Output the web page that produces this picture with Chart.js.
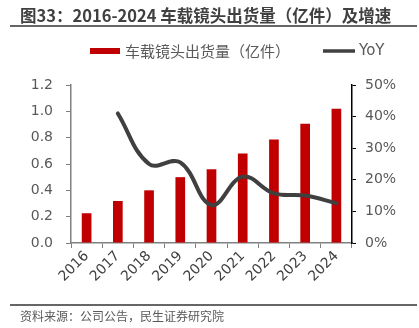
<!DOCTYPE html>
<html lang="zh">
<head>
<meta charset="UTF-8">
<title>车载镜头出货量及增速</title>
<script src="https://cdn.jsdelivr.net/npm/chart.js"></script>
<style>
  html, body { margin: 0; padding: 0; background: #fff; }
  #wrap { width: 419px; height: 328px; position: relative; }
</style>
</head>
<body>
<div id="wrap"><canvas id="myChart" width="419" height="328"></canvas></div>
<script>
  const years = ['2016', '2017', '2018', '2019', '2020', '2021', '2022', '2023', '2024'];
  const shipments = [0.226, 0.319, 0.40, 0.50, 0.56, 0.68, 0.787, 0.906, 1.02]; // 亿件
  const yoy = [null, 41, 25, 25.5, 12, 21, 15.7, 15, 12.6]; // %

  const titleText = '图33：2016-2024 车载镜头出货量（亿件）及增速';
  const sourceText = '资料来源：公司公告，民生证券研究院';

  const barColor = '#C00000';
  const lineColor = '#404040';
  const textColor = '#595959';
  const tickFont = '"DejaVu Sans", "Liberation Sans", sans-serif';
  const latin = '"Liberation Sans", Arial, "Noto Sans CJK SC", sans-serif';
  const cjk = '"Noto Sans CJK SC", "Liberation Sans", sans-serif';

  // title, legend and source line drawn straight onto the canvas
  const decor = {
    id: 'decor',
    afterDraw(chart) {
      const c = chart.ctx;
      const barSet = chart.data.datasets.find(d => d.type === 'bar');
      const lineSet = chart.data.datasets.find(d => d.type === 'line');
      c.save();
      c.textBaseline = 'middle';
      c.textAlign = 'left';
      c.fillStyle = '#404040';
      c.font = 'bold 16.5px ' + cjk;
      c.fillText(titleText, 20, 16);

      c.strokeStyle = '#666';
      c.lineWidth = 2;
      c.beginPath(); c.moveTo(10, 26); c.lineTo(417, 26); c.stroke();

      // legend
      c.fillStyle = barColor;
      c.fillRect(90, 48, 30, 6);
      c.fillStyle = textColor;
      c.font = '15px ' + cjk;
      c.fillText(barSet.label, 125, 51);
      c.strokeStyle = lineColor;
      c.lineWidth = 3.5;
      c.beginPath(); c.moveTo(323, 51); c.lineTo(355, 51); c.stroke();
      c.font = '15px ' + tickFont;
      c.fillText(lineSet.label, 359, 51);

      c.strokeStyle = '#666';
      c.lineWidth = 2;
      c.beginPath(); c.moveTo(10, 305); c.lineTo(417, 305); c.stroke();
      c.fillStyle = textColor;
      c.font = '12px ' + cjk;
      c.fillText(sourceText, 20, 316);
      c.restore();
    }
  };

  const ctx = document.getElementById('myChart').getContext('2d');
  new Chart(ctx, {
    data: {
      labels: years,
      datasets: [
        {
          type: 'line',
          label: 'YoY',
          data: yoy,
          yAxisID: 'y1',
          borderColor: lineColor,
          borderWidth: 4,
          tension: 0.4,
          pointRadius: 0,
          borderCapStyle: 'round',
          order: 0
        },
        {
          type: 'bar',
          label: '车载镜头出货量（亿件）',
          data: shipments,
          yAxisID: 'y',
          backgroundColor: barColor,
          categoryPercentage: 1,
          barPercentage: 0.31,
          order: 1
        }
      ]
    },
    options: {
      responsive: false,
      animation: false,
      layout: { padding: { top: 85, bottom: 20, left: 0, right: 0 } },
      plugins: {
        legend: { display: false },
        tooltip: { enabled: false }
      },
      scales: {
        x: {
          afterFit(s) { s.height = 65; },
          grid: { display: true, drawOnChartArea: false, tickLength: 5, color: '#808080', offset: true },
          border: { color: '#808080', width: 1.5 },
          ticks: {
            color: '#404040',
            font: { family: tickFont, size: 14 },
            maxRotation: 45,
            minRotation: 45,
            padding: 0
          }
        },
        y: {
          position: 'left',
          min: 0,
          max: 1.2,
          afterFit(s) { s.width = 71; },
          grid: { drawOnChartArea: false, tickLength: 5, color: '#808080' },
          border: { color: '#808080', width: 1.5 },
          ticks: {
            stepSize: 0.2,
            color: textColor,
            padding: 13,
            font: { family: tickFont, size: 14 },
            callback: v => v.toFixed(1)
          }
        },
        y1: {
          position: 'right',
          min: 0,
          max: 50,
          afterFit(s) { s.width = 67; },
          grid: { drawOnChartArea: false, tickLength: 4, color: '#000' },
          border: { color: '#000', width: 1.5 },
          ticks: {
            stepSize: 10,
            color: textColor,
            padding: 9,
            font: { family: tickFont, size: 14 },
            callback: v => v + '%'
          }
        }
      }
    },
    plugins: [decor]
  });
</script>
</body>
</html>
